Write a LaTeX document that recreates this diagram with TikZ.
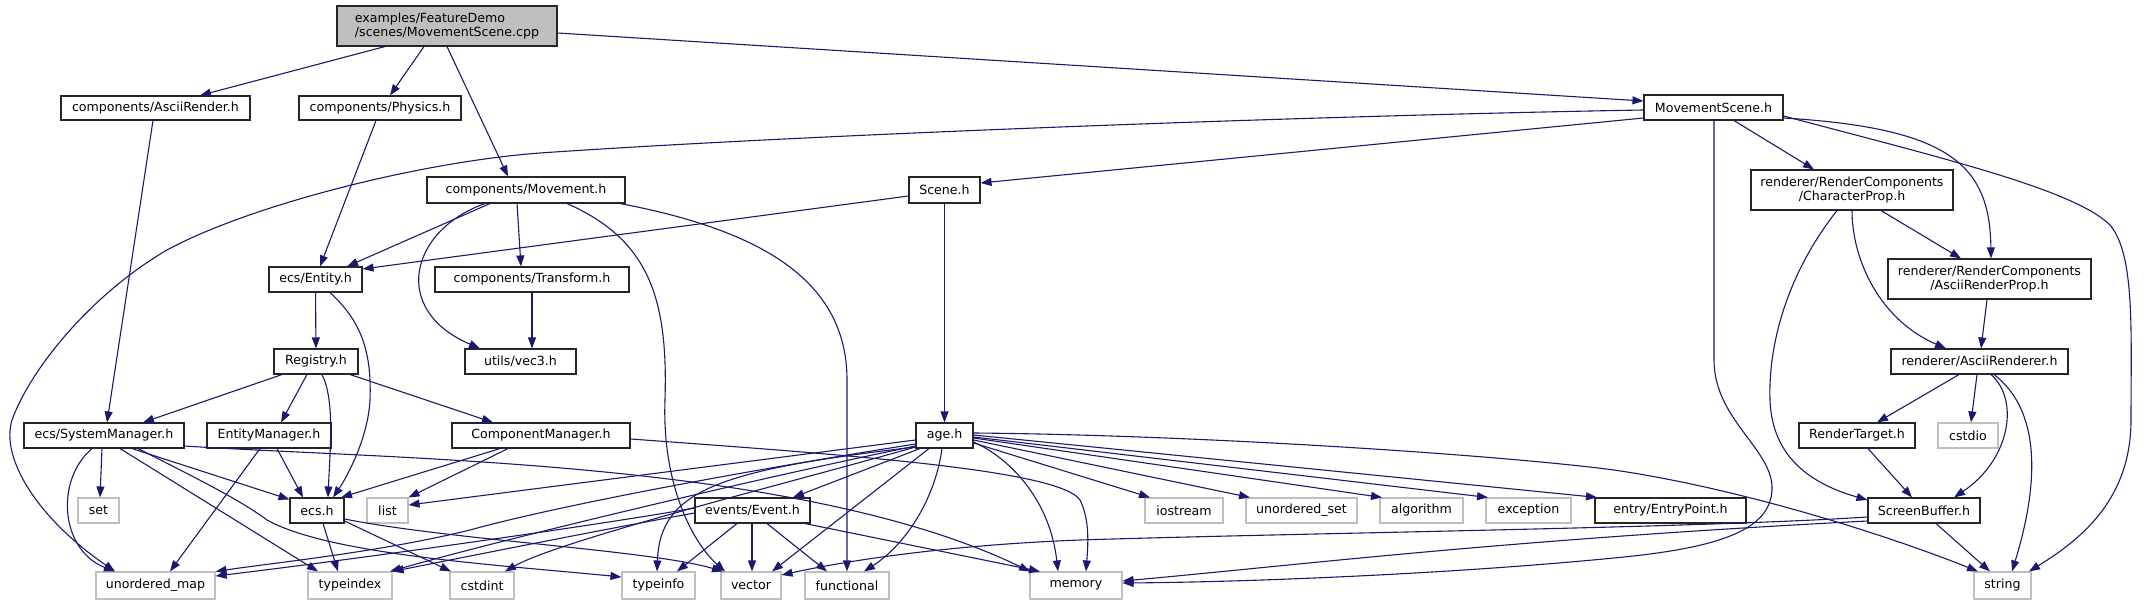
\documentclass[tikz,border=0pt]{standalone}
\usepackage{fontspec}
\setmainfont{DejaVu Sans}
\usetikzlibrary{arrows.meta,calc}
\definecolor{edgec}{HTML}{191970}
\definecolor{grayb}{HTML}{BFBFBF}
\tikzset{
  base/.style={draw, line width=0.55pt, inner sep=0pt, font=\fontsize{6.3}{7.2}\selectfont, text=black},
  doc/.style={base, draw=black!85},
  ext/.style={base, draw=grayb},
  sz/.style 2 args={minimum width=#1*0.5pt, minimum height=#2*0.5pt},
  lnk/.style={draw=edgec, line width=0.55pt, -{Triangle[length=5.5pt,width=4pt]}},
}
\begin{document}
\begin{tikzpicture}[x=0.5pt,y=-0.5pt]
\useasboundingbox (0,0) rectangle (2154,604);
% nodes
\node[doc, fill=grayb, sz={220}{40}, align=left] (main) at (447,26) {examples/FeatureDemo\\/scenes/MovementScene.cpp};
\node[doc, sz={189}{24}] (ar) at (155.5,108) {components/AsciiRender.h};
\node[doc, sz={162}{24}] (ph) at (380,108) {components/Physics.h};
\node[doc, sz={198}{26}] (mv) at (526,190) {components/Movement.h};
\node[doc, sz={71}{26}] (sc) at (944.5,190) {Scene.h};
\node[doc, sz={139}{25}] (ms) at (1713.5,107.5) {MovementScene.h};
\node[doc, sz={202}{40}, align=center] (cp) at (1852,190) {renderer/RenderComponents\\/CharacterProp.h};
\node[doc, sz={93}{25}] (en) at (315.5,279.5) {ecs/Entity.h};
\node[doc, sz={194}{25}] (tr) at (532,279.5) {components/Transform.h};
\node[doc, sz={111}{25}] (v3) at (520.5,361.5) {utils/vec3.h};
\node[doc, sz={84}{25}] (rg) at (316,361.5) {Registry.h};
\node[doc, sz={203}{40}, align=center] (arp) at (1989.5,279) {renderer/RenderComponents\\/AsciiRenderProp.h};
\node[doc, sz={177}{25}] (are) at (1979.5,361.5) {renderer/AsciiRenderer.h};
\node[doc, sz={160}{25}] (sm) at (104,435.5) {ecs/SystemManager.h};
\node[doc, sz={124}{25}] (em) at (269,435.5) {EntityManager.h};
\node[doc, sz={178}{25}] (cm) at (541,435.5) {ComponentManager.h};
\node[doc, sz={57}{25}] (age) at (944.5,435.5) {age.h};
\node[doc, sz={116}{25}] (rt) at (1857,435.5) {RenderTarget.h};
\node[ext, sz={60}{25}] (cst) at (1968,435.5) {cstdio};
\node[ext, sz={41}{25}] (set) at (98.5,510.5) {set};
\node[doc, sz={54}{25}] (ecs) at (317,510.5) {ecs.h};
\node[ext, sz={41}{25}] (lst) at (387.5,510.5) {list};
\node[doc, sz={115}{25}] (ev) at (752.5,510.5) {events/Event.h};
\node[ext, sz={78}{25}] (ios) at (1184,510.5) {iostream};
\node[ext, sz={111}{25}] (us) at (1301.5,510.5) {unordered\_set};
\node[ext, sz={83}{25}] (alg) at (1421.5,510.5) {algorithm};
\node[ext, sz={85}{25}] (exc) at (1528.5,510.5) {exception};
\node[doc, sz={151}{25}] (ep) at (1670.5,510.5) {entry/EntryPoint.h};
\node[doc, sz={112}{25}] (sb) at (1924,510.5) {ScreenBuffer.h};
\node[ext, sz={119}{27}] (um) at (155.5,585.5) {unordered\_map};
\node[ext, sz={84}{27}] (ti) at (350,585.5) {typeindex};
\node[ext, sz={64}{27}] (ci) at (482,585.5) {cstdint};
\node[ext, sz={73}{27}] (tinf) at (658.5,585.5) {typeinfo};
\node[ext, sz={60}{27}] (vec) at (751,585.5) {vector};
\node[ext, sz={84}{27}] (fn) at (847,585.5) {functional};
\node[ext, sz={92}{27}] (mem) at (1076,585.5) {memory};
\node[ext, sz={57}{27}] (str) at (2002.5,585.5) {string};
% main
\draw[lnk] (main.south -| 385,0) -- (ar.north -| 200,0);
\draw[lnk] (main.south -| 424,0) -- (ph.north -| 390,0);
\draw[lnk] (main.south -| 447,0) -- (mv.north -| 508,0);
\draw[lnk] (main.east |- 0,33) -- (ms.west |- 0,101);
\draw[lnk] (ar.south -| 153,0) -- (sm.north -| 107,0);
\draw[lnk] (ph.south -| 376,0) -- (en.north -| 320,0);
% movement
\draw[lnk] (mv.south -| 490,0) -- (en.north -| 347,0);
\draw[lnk] (mv.south -| 517,0) -- (tr.north -| 521,0);
\draw[lnk] (mv.south -| 485,0) .. controls (410,230) and (390,310) .. (v3.north -| 480,0);
\draw[lnk] (mv.south -| 567,0) .. controls (650,240) and (668,300) .. (665,400) .. controls (662,480) and (690,540) .. (vec.north -| 725,0);
\draw[lnk] (mv.south -| 620,0) .. controls (760,230) and (847,280) .. (847,380) -- (fn.north -| 847,0);
\draw[lnk] (tr) -- (v3.north -| 532,0);
% scene
\draw[lnk] (sc.west |- 0,196) -- (en.east |- 0,269);
\draw[lnk] (sc) -- (age);
% movement scene
\draw[lnk] (ms.west |- 0,118) -- (sc.east |- 0,183);
\draw[lnk] (ms.west |- 0,110) .. controls (1300,116) and (800,135) .. (540,153) .. controls (420,162) and (250,205) .. (167,250) .. controls (90,295) and (30,370) .. (12,420) .. controls (0,460) and (40,520) .. (um.north -| 115,0);
\draw[lnk] (ms.east |- 0,116) .. controls (1950,160) and (2074,190) .. (2110,225) .. controls (2135,255) and (2131,330) .. (2131,420) .. controls (2131,500) and (2080,540) .. (str.north -| 2029,0);
\draw[lnk] (ms.east |- 0,118) .. controls (1950,128) and (1990,165) .. (arp.north -| 1991,0);
\draw[lnk] (ms.south -| 1734,0) -- (cp.north -| 1814,0);
\draw[lnk] (ms.south -| 1714,0) -- (1714,360) .. controls (1714,420) and (1774,450) .. (1772,490) .. controls (1770,530) and (1720,548) .. (1614,558) .. controls (1450,574) and (1250,582) .. (mem.east |- 0,583);
% render side
\draw[lnk] (cp.south -| 1881,0) -- (arp.north -| 1961,0);
\draw[lnk] (cp.south -| 1852,0) .. controls (1852,260) and (1880,320) .. (are.north -| 1946,0);
\draw[lnk] (cp.south -| 1837,0) .. controls (1790,270) and (1768,340) .. (1770,400) .. controls (1772,460) and (1815,485) .. (sb.west |- 0,500);
\draw[lnk] (arp.south -| 1987,0) -- (are.north -| 1981,0);
\draw[lnk] (are.south -| 1959,0) -- (rt.north -| 1877,0);
\draw[lnk] (are.south -| 1977,0) -- (cst.north -| 1971,0);
\draw[lnk] (are.south -| 1991,0) .. controls (2020,400) and (2010,460) .. (sb.north -| 1954,0);
\draw[lnk] (are.south -| 1994,0) .. controls (2040,410) and (2040,480) .. (str.north -| 2012,0);
\draw[lnk] (rt.south -| 1868,0) -- (sb.north -| 1912,0);
\draw[lnk] (sb.south -| 1936,0) -- (str.north -| 1990,0);
\draw[lnk] (sb.west |- 0,517) .. controls (1700,528) and (1300,533) .. (1080,540) .. controls (950,545) and (850,560) .. (vec.east |- 0,575);
\draw[lnk] (sb.west |- 0,521) .. controls (1500,540) and (1300,565) .. (mem.east |- 0,581);
% age
\draw[lnk] (age.south -| 920,0) -- (ev.north -| 793,0);
\draw[lnk] (age.south -| 929,0) -- (vec.north -| 772,0);
\draw[lnk] (age.south -| 942,0) .. controls (935,500) and (905,545) .. (fn.north -| 864,0);
\draw[lnk] (age.east |- 0,442) .. controls (1010,458) and (1050,500) .. (mem.north -| 1058,0);
\draw[lnk] (age.east |- 0,443) -- (ios.north -| 1150,0);
\draw[lnk] (age.east |- 0,440) -- (us.north -| 1250,0);
\draw[lnk] (age.east |- 0,438) -- (alg.north -| 1382,0);
\draw[lnk] (age.east |- 0,437) -- (exc.north -| 1488,0);
\draw[lnk] (age.east |- 0,435) -- (ep.north -| 1597,0);
\draw[lnk] (age.east |- 0,433) .. controls (1200,435) and (1500,455) .. (1614,470) .. controls (1750,490) and (1900,540) .. (str.north -| 1978,0);
\draw[lnk] (age.west |- 0,440) -- (lst.east |- 0,505);
\draw[lnk] (age.west |- 0,444) .. controls (750,470) and (560,505) .. (470,530) .. controls (380,552) and (280,562) .. (um.north east);
\draw[lnk] (age.west |- 0,446) .. controls (750,480) and (500,540) .. (ti.north -| 390,0);
\draw[lnk] (age.west |- 0,447) .. controls (800,480) and (560,540) .. (ci.north -| 505,0);
\draw[lnk] (age.west |- 0,447) .. controls (720,470) and (660,490) .. (tinf.north -| 657,0);
% event
\draw[lnk] (ev.west |- 0,508) .. controls (600,525) and (350,560) .. (um.east |- 0,576);
\draw[lnk] (ev.west |- 0,513) .. controls (600,530) and (450,560) .. (ti.north east);
\draw[lnk] (ev.south -| 737,0) -- (tinf.north -| 677,0);
\draw[lnk] (ev.south -| 752,0) -- (vec.north -| 752,0);
\draw[lnk] (ev.south -| 767,0) -- (fn.north -| 827,0);
\draw[lnk] (ev.south -| 805,0) -- (mem.north -| 1040,0);
% ecs
\draw[lnk] (ecs.south -| 323,0) -- (ti.north -| 338,0);
\draw[lnk] (ecs.east |- 0,521) -- (ci.north -| 451,0);
\draw[lnk] (ecs.east |- 0,519) .. controls (450,540) and (650,550) .. (vec.north -| 723,0);
% system manager
\draw[lnk] (sm.south -| 102,0) -- (set.north -| 100,0);
\draw[lnk] (sm.south -| 92,0) .. controls (55,480) and (60,550) .. (um.north -| 115,0);
\draw[lnk] (sm.south -| 132,0) -- ($(ecs.north west)+(0,2)$);
\draw[lnk] (sm.south -| 120,0) -- (ti.north -| 318,0);
\draw[lnk] (sm.south -| 138,0) .. controls (200,480) and (240,500) .. (267,520) .. controls (330,555) and (500,565) .. (tinf.west |- 0,577);
\draw[lnk] (sm.east |- 0,446) .. controls (400,460) and (800,460) .. (mem.north -| 1030,0);
% entity manager
\draw[lnk] (em.south -| 260,0) -- (um.north -| 170,0);
\draw[lnk] (em.south -| 277,0) -- (ecs.north -| 303,0);
% registry
\draw[lnk] (rg.south -| 282,0) -- (sm.north -| 143,0);
\draw[lnk] (rg.south -| 307,0) -- (em.north -| 281,0);
\draw[lnk] (rg.south -| 322,0) .. controls (335,400) and (330,450) .. (ecs.north -| 328,0);
\draw[lnk] (rg.south -| 350,0) -- (cm.north -| 493,0);
% entity
\draw[lnk] (en) -- (rg);
\draw[lnk] (en.south -| 330,0) .. controls (360,320) and (372,350) .. (370,400) .. controls (368,440) and (345,480) .. (ecs.north -| 333,0);
% component manager
\draw[lnk] (cm.south -| 500,0) -- (ecs.north -| 341,0);
\draw[lnk] (cm.south -| 508,0) -- (lst.north east);
\draw[lnk] (cm.east |- 0,439) .. controls (850,455) and (1060,470) .. (1080,500) .. controls (1090,520) and (1088,545) .. (mem.north -| 1086,0);
\end{tikzpicture}
\end{document}
